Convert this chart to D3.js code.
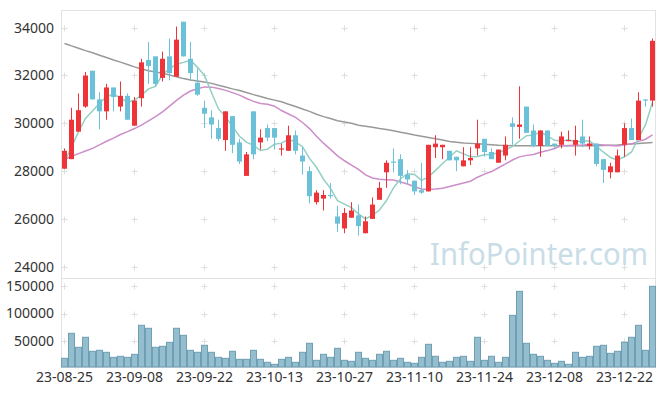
<!DOCTYPE html>
<html><head><meta charset="utf-8">
<script src="https://cdn.jsdelivr.net/npm/d3@7"></script>
<style>body{margin:0;background:#fff}svg{display:block}</style>
</head><body>
<svg id="c" width="665" height="396"></svg>
<script>
const dates = ["23-08-25","23-08-28","23-08-29","23-08-30","23-08-31","23-09-01","23-09-04","23-09-05","23-09-06","23-09-07",
"23-09-08","23-09-11","23-09-12","23-09-13","23-09-14","23-09-15","23-09-18","23-09-19","23-09-20","23-09-21",
"23-09-22","23-09-25","23-09-26","23-09-27","23-10-04","23-10-05","23-10-06","23-10-10","23-10-11","23-10-12",
"23-10-13","23-10-16","23-10-17","23-10-18","23-10-19","23-10-20","23-10-23","23-10-24","23-10-25","23-10-26",
"23-10-27","23-10-30","23-10-31","23-11-01","23-11-02","23-11-03","23-11-06","23-11-07","23-11-08","23-11-09",
"23-11-10","23-11-13","23-11-14","23-11-15","23-11-16","23-11-17","23-11-20","23-11-21","23-11-22","23-11-23",
"23-11-24","23-11-27","23-11-28","23-11-29","23-11-30","23-12-01","23-12-04","23-12-05","23-12-06","23-12-07",
"23-12-08","23-12-11","23-12-12","23-12-13","23-12-14","23-12-15","23-12-18","23-12-19","23-12-20","23-12-21",
"23-12-22","23-12-26","23-12-27","23-12-28","23-12-29"];
const tickDates = ["23-08-25","23-09-08","23-09-22","23-10-13","23-10-27","23-11-10","23-11-24","23-12-08","23-12-22"];
const priceTicks = [24000,26000,28000,30000,32000,34000];
const volumeTicks = [50000,100000,150000];

const open = [28100,28500,29650,30700,32200,31000,30500,31500,30700,31150,
29900,31050,32650,32800,31900,32800,31950,34250,32700,31700,
30650,30250,29800,29300,30300,29200,27800,30500,29200,29800,
29800,28900,28850,29500,28650,28000,26700,26850,27000,26100,
25600,26050,26150,25400,26000,26800,27950,28400,28500,27850,
27600,27200,27150,29000,29000,28850,28600,28200,28450,28950,
29350,28800,28350,28650,30000,29850,30700,29700,29050,29700,
29150,29100,29250,29100,29450,29050,29150,28500,27950,27950,
29100,29800,29300,31000,30950];
const high = [28950,30650,31250,32150,32200,31300,31650,31500,31750,31250,
31100,32700,33400,32800,33000,33550,34050,34250,33400,32300,
30950,30550,30150,30500,30300,29350,28800,30500,29750,29950,
29800,29150,29900,29700,29000,28200,27200,27200,27500,26550,
26450,26700,26600,26100,26900,27550,28450,28950,28700,28050,
27600,28350,29100,29500,29100,28850,28600,29000,29000,30150,
29350,28950,28900,29450,30250,31550,30700,29950,29700,29700,
29150,29650,29700,29900,30150,29450,29150,28500,28350,28900,
30000,30200,31300,31000,33550];
const low = [28100,28500,29650,30650,31000,29750,30150,30500,30500,30150,
29900,30700,31650,31550,31750,31800,31950,32800,31800,31150,
29800,29350,29250,28850,28750,28300,27800,28500,28900,29250,
28900,28650,28850,28700,27850,26650,26600,26350,26850,25450,
25400,26050,25300,25400,26000,26800,27300,27950,27450,27450,
27000,27050,27150,28550,28500,28450,28000,28200,28250,28650,
28600,28500,28350,28450,29100,29350,29600,29000,28600,29050,
28950,28950,29250,28650,29000,28900,28200,27500,27700,27950,
28600,29300,29300,30700,30700];
const close = [28850,30150,30550,32000,31000,30500,31500,31100,31150,30150,
30950,32550,32400,31650,32700,32100,33500,32800,32100,31200,
30400,29950,29350,30500,29100,28400,28700,28700,29400,29400,
29400,28950,29500,28850,28400,26950,27100,27000,26950,25800,
26250,26350,25700,25900,26600,27300,28350,28350,27800,27650,
27150,27100,29100,29150,29100,28450,28450,28450,28550,29150,
28800,28500,28900,29100,29850,29950,29600,29050,29700,29050,
29050,29450,29300,29300,29150,29150,28300,28050,28200,28650,
29800,29300,30950,30950,33450];
const volume = [19400,64400,39200,57200,32000,33800,30200,21200,23000,21200,
26600,78800,73400,39200,41000,48200,73400,60800,33800,30200,
42800,30200,21200,19400,32000,17600,17600,33800,17600,12200,
8600,17600,21200,12200,30200,46400,15800,26600,21200,37400,
15800,14000,30200,19400,15800,26600,32000,15800,19400,12200,
10400,21200,44600,23000,12200,14000,21200,23000,14000,57200,
15800,23000,12200,21200,96700,139900,46400,26600,23000,15800,
10400,14000,8600,30200,21200,23000,41000,42800,28400,32000,
48200,57200,78800,33800,148900];
const ma5 = [28390,29000,29650,30200,30510,30840,31110,31220,31050,30880,
30970,31180,31440,31540,32050,32280,32470,32550,32640,32340,
32000,31290,30600,30280,29860,29460,29210,29080,28860,28920,
29120,29170,29330,29220,29020,28530,28160,27660,27280,26760,
26620,26470,26210,26000,26160,26370,26770,27300,27680,27890,
27860,27610,27760,28030,28320,28580,28850,28720,28600,28610,
28680,28690,28780,28890,29030,29260,29480,29510,29630,29470,
29290,29260,29310,29230,29250,29270,29040,28790,28570,28470,
28600,28800,29380,29930,30890];
const ma20 = [28480,28620,28730,28840,28950,29100,29250,29380,29530,29650,
29780,29920,30100,30280,30480,30720,30960,31180,31350,31445,
31523,31513,31453,31378,31283,31178,31038,30918,30830,30793,
30715,30535,30390,30250,30035,29778,29458,29168,28910,28640,
28433,28253,28070,27840,27715,27660,27643,27625,27545,27458,
27345,27253,27233,27248,27283,27358,27425,27498,27578,27745,
27873,27980,28140,28300,28463,28595,28658,28693,28788,28858,
28948,29065,29075,29083,29085,29120,29113,29093,29075,29050,
29100,29140,29243,29335,29515];
const ma60 = [33340,33240,33140,33040,32950,32850,32750,32650,32560,32460,
32360,32270,32200,32150,32090,32020,31950,31870,31810,31770,
31730,31670,31590,31520,31440,31370,31290,31200,31120,31040,
30970,30900,30800,30700,30600,30500,30380,30280,30200,30110,
30050,30000,29920,29880,29830,29780,29740,29690,29630,29570,
29510,29460,29410,29350,29300,29240,29210,29180,29160,29140,
29120,29100,29080,29070,29060,29060,29060,29060,29060,29060,
29060,29060,29060,29060,29060,29060,29060,29070,29080,29090,
29110,29130,29150,29180,29200];

const svg = d3.select("#c");
const FONT = "'Noto Sans', sans-serif";
const L = 61, R = 656, PT = 10, PB = 278, VB = 367;

const x = d3.scaleBand().domain(dates).range([L, R]).padding(0);
const cx = d => x(d) + x.bandwidth() / 2;
const yP = d3.scaleLinear().domain([24000, 34000]).range([266.7, 27.7]);
const yV = d3.scaleLinear().domain([0, 150000]).range([369.1, 285.7]);

svg.append("rect").attr("width", 665).attr("height", 396).attr("fill", "#fff");

// panel borders
const gridCol = "#e3e3e3";
svg.append("rect").attr("x", L + 0.5).attr("y", PT + 0.5).attr("width", R - L - 1).attr("height", PB - PT)
  .attr("fill", "none").attr("stroke", gridCol);
svg.append("rect").attr("x", L + 0.5).attr("y", PB + 0.5).attr("width", R - L - 1).attr("height", VB - PB)
  .attr("fill", "none").attr("stroke", gridCol);

// cross grid markers
const crossG = svg.append("g").attr("stroke", "#dedede").attr("stroke-width", 1);
function crosses(ticks, yScale) {
  tickDates.forEach(d => {
    ticks.forEach(t => {
      const px = Math.round(cx(d)) - 0.5, py = Math.round(yScale(t)) + 0.5;
      crossG.append("path").attr("d", `M${px-3},${py}H${px+3}M${px},${py-3}V${py+3}`);
    });
  });
}
crosses(priceTicks, yP);
crosses(volumeTicks, yV);

// watermark
svg.append("text").attr("x", 430).attr("y", 265).text("InfoPointer.com")
  .attr("font-family", FONT).attr("font-size", 30).attr("fill", "#c9dde7")
  .attr("textLength", 218).attr("lengthAdjust", "spacingAndGlyphs");

// clip
svg.append("clipPath").attr("id", "pclip").append("rect")
  .attr("x", L + 1).attr("y", PT + 1).attr("width", R - L - 2).attr("height", PB - PT - 1);

// volume bars
svg.append("g").selectAll("rect").data(dates).join("rect")
  .attr("x", d => x(d) + 0.5)
  .attr("y", (d, i) => yV(volume[i]))
  .attr("width", x.bandwidth() - 1)
  .attr("height", (d, i) => VB - yV(volume[i]))
  .attr("fill", "#94bdce").attr("stroke", "#6e9fb4").attr("stroke-width", 1);

// moving averages
const pg = svg.append("g").attr("clip-path", "url(#pclip)");
const line = arr => d3.line().x((d, i) => cx(dates[i])).y(d => yP(d))(arr);
pg.append("path").attr("d", line(ma60)).attr("fill", "none").attr("stroke", "#999").attr("stroke-width", 1.5);
pg.append("path").attr("d", line(ma20)).attr("fill", "none").attr("stroke", "#cc8dc9").attr("stroke-width", 1.5);
pg.append("path").attr("d", line(ma5)).attr("fill", "none").attr("stroke", "#92d0c3").attr("stroke-width", 1.5);

// candles
const up = "#ee3439", down = "#6bc2d8";
const cg = pg.append("g");
dates.forEach((d, i) => {
  const col = close[i] >= open[i] ? up : down;
  cg.append("line").attr("x1", x(d) + 3.5).attr("x2", x(d) + 3.5)
    .attr("y1", yP(high[i])).attr("y2", yP(low[i])).attr("stroke", col).attr("stroke-width", 1);
  const top = yP(Math.max(open[i], close[i])), bot = yP(Math.min(open[i], close[i]));
  cg.append("rect").attr("x", x(d) + 1).attr("width", 5)
    .attr("y", top).attr("height", Math.max(1, bot - top)).attr("fill", col);
});

// axes
const txt = "#333";
const yAxisP = d3.axisLeft(yP).tickValues(priceTicks).tickSize(0).tickPadding(7).tickFormat(d3.format("d"));
const gP = svg.append("g").attr("transform", `translate(${L},0)`).call(yAxisP);
const yAxisV = d3.axisLeft(yV).tickValues(volumeTicks).tickSize(0).tickPadding(7).tickFormat(d3.format("d"));
const gV = svg.append("g").attr("transform", `translate(${L},0)`).call(yAxisV);
const xAxis = d3.axisBottom(x).tickValues(tickDates).tickSize(0).tickPadding(5);
const gX = svg.append("g").attr("transform", `translate(0,${VB})`).call(xAxis);
[gP, gV, gX].forEach(g => {
  g.select(".domain").remove();
  g.selectAll("text").attr("font-family", FONT).attr("font-size", 14).attr("fill", txt);
});
</script>
</body></html>
